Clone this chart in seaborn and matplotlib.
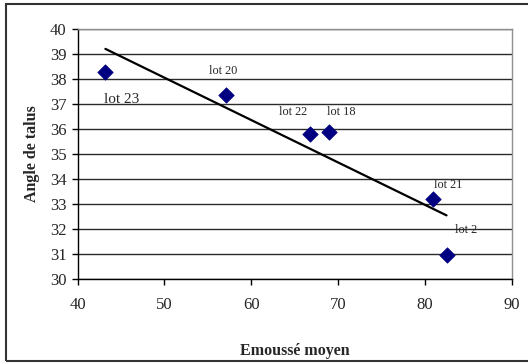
import pandas as pd
import seaborn as sns
import matplotlib.pyplot as plt
from matplotlib.patches import Rectangle

# values
emousse = [43.2, 57.1, 66.8, 68.95, 80.9, 82.5]
angle = [38.28, 37.37, 35.8, 35.88, 33.21, 30.95]
lots = ['lot 23', 'lot 20', 'lot 22', 'lot 18', 'lot 21', 'lot 2']
# label positions (data units) and font sizes
label_x = [45.1, 56.76, 64.81, 70.33, 82.71, 84.75]
label_y = [37.2, 38.33, 36.7, 36.7, 33.78, 31.96]
label_size = [11, 8.8, 8.8, 8.8, 8.8, 8.8]

data = pd.DataFrame({'Emoussé moyen': emousse, 'Angle de talus': angle, 'lot': lots})

sns.set_style('white')
plt.rcParams['font.family'] = ['Liberation Serif', 'DejaVu Serif']

fig = plt.figure(figsize=(5.28, 3.63), dpi=100)
ax = fig.add_axes([0.147, 0.232, 0.822, 0.687])

# horizontal grid
for v in range(30, 41):
    ax.axhline(v, color='#2a2a2a', lw=1.0, zorder=0)

sns.regplot(data=data, x='Emoussé moyen', y='Angle de talus', scatter=False,
            ci=None, color='black', line_kws={'lw': 1.6}, ax=ax)
sns.scatterplot(data=data, x='Emoussé moyen', y='Angle de talus', marker='D',
                color='#000080', s=62, edgecolor='#000080', linewidth=0.5,
                zorder=3, ax=ax)

for t, x, y, fs in zip(lots, label_x, label_y, label_size):
    ax.text(x, y, t, ha='center', va='center', fontsize=fs)

ax.set_xlim(40, 90)
ax.set_ylim(30, 40)
ax.set_xticks(range(40, 91, 10))
ax.set_yticks(range(30, 41, 1))
ax.tick_params(axis='both', labelsize=12, length=4, width=1, color='black',
               direction='out')
ax.tick_params(axis='x', pad=9, bottom=True)
ax.tick_params(axis='y', pad=4, left=True)

for side in ['left', 'bottom']:
    ax.spines[side].set_color('black')
    ax.spines[side].set_linewidth(1.0)
for side in ['top', 'right']:
    ax.spines[side].set_color('#909090')
    ax.spines[side].set_linewidth(1.0)

ax.set_xlabel('Emoussé moyen', fontsize=11.5, fontweight='bold', labelpad=22)
ax.set_ylabel('Angle de talus', fontsize=11.5, fontweight='bold', labelpad=7)

# outer chart border
fig.patches.append(Rectangle((6 / 528, 2 / 363), 1.1, 357 / 363,
                             transform=fig.transFigure, fill=False,
                             edgecolor='#333333', lw=1.5))

fig.savefig('out.png', dpi=100)
